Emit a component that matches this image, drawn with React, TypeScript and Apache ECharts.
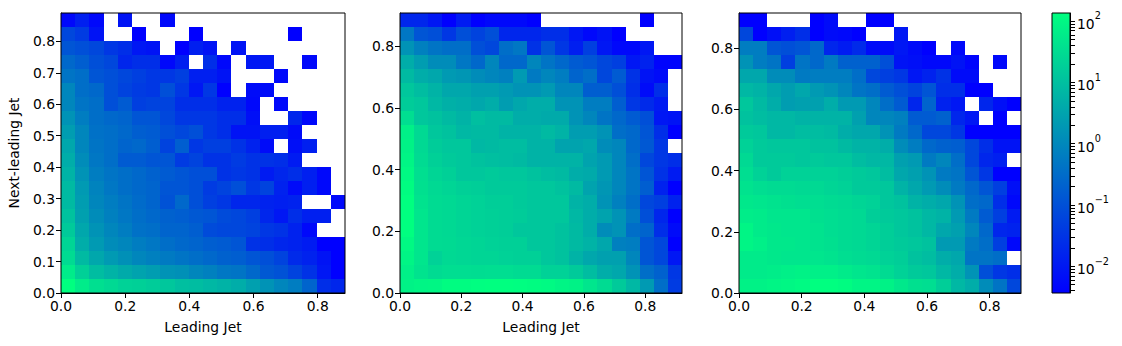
import React, { useEffect, useRef } from "react";
import * as echarts from "echarts";

const n = null;
// Cell levels as percent position along the colour bar, top row first, white cells null
const panelA: (number | null)[][] = [
  [2,8,2,n,5,n,n,2,n,n,n,n,n,n,n,n,n,n,n,n],
  [18,15,5,n,n,0,n,n,n,0,n,n,n,n,n,n,0,n,n,n],
  [22,20,18,14,12,6,5,n,0,8,5,n,5,n,n,n,n,n,n,n],
  [28,25,20,18,10,12,12,2,8,n,12,2,n,6,6,n,n,2,n,n],
  [32,30,22,20,18,16,14,14,16,8,8,5,n,n,n,2,n,n,n,n],
  [38,30,28,20,17,15,14,20,14,6,14,0,n,3,3,n,n,n,n,n],
  [38,32,30,20,24,16,17,17,12,12,12,9,9,2,n,2,n,n,n,n],
  [42,35,30,28,27,22,22,18,14,14,14,12,12,4,n,n,10,2,n,n],
  [45,38,31,30,28,25,24,20,18,20,14,12,5,5,8,8,3,n,n,n],
  [48,38,32,30,27,28,25,17,25,14,16,16,13,9,3,n,4,8,n,n],
  [50,40,33,30,24,24,22,22,15,17,13,13,15,13,13,12,7,n,n,n],
  [52,42,35,32,30,28,26,24,22,20,20,13,14,13,7,10,12,8,2,n],
  [55,44,37,33,30,28,27,22,22,20,15,17,20,14,17,9,3,8,2,n],
  [55,45,38,35,32,29,27,21,28,20,16,14,10,10,9,8,9,n,n,2],
  [58,46,40,36,33,30,28,26,25,23,22,19,18,16,10,6,12,8,8,n],
  [62,48,42,38,35,31,30,27,27,25,19,18,18,17,14,13,9,2,n,n],
  [68,50,44,40,38,35,33,30,28,27,25,24,22,13,12,10,9,7,0,0],
  [72,55,48,44,41,38,36,34,32,30,28,26,25,22,20,17,11,9,5,0],
  [85,65,56,52,49,47,45,42,41,38,36,33,32,28,23,21,17,13,6,0],
  [100,85,75,70,66,65,63,60,57,56,54,52,50,46,42,38,35,27,12,10],
];
const panelB: (number | null)[][] = [
  [10,10,6,0,7,0,2,2,2,0,n,n,n,n,n,n,n,0,n,n],
  [33,22,20,14,20,17,20,10,10,10,12,12,6,2,5,0,n,n,n,n],
  [42,36,32,30,30,20,18,30,33,13,22,14,8,16,6,2,2,6,n,n],
  [50,45,40,40,33,28,38,28,28,38,32,28,24,22,18,16,6,9,1,1],
  [55,50,48,44,43,40,38,36,44,34,38,35,27,30,18,24,13,5,3,n],
  [60,56,52,48,48,46,46,44,42,42,44,38,38,25,25,20,12,3,12,n],
  [63,60,54,51,50,48,50,45,48,50,50,42,42,35,35,25,14,11,7,n],
  [74,60,58,55,52,57,55,55,50,50,49,49,42,38,32,28,24,20,6,5],
  [88,70,60,58,54,55,55,52,52,52,55,52,45,45,42,30,28,22,12,0],
  [90,70,63,60,60,54,55,56,56,52,52,47,47,48,40,38,28,23,14,n],
  [92,72,65,62,60,58,57,56,55,52,52,52,52,47,44,38,30,18,14,12],
  [95,75,68,65,60,60,62,60,60,58,56,55,50,49,44,38,32,22,13,7],
  [98,76,70,68,65,64,62,62,62,60,60,58,55,47,43,38,32,25,9,0],
  [100,78,72,70,68,66,64,64,62,60,60,60,52,50,42,36,30,18,16,9],
  [100,80,72,70,68,66,65,64,63,60,60,60,54,50,47,42,34,20,10,0],
  [100,80,72,70,68,66,65,64,60,60,60,58,55,50,40,42,30,27,12,3],
  [95,80,72,71,69,68,66,65,65,60,60,58,55,52,48,36,35,22,18,0],
  [92,80,66,70,69,68,68,66,65,65,60,58,52,48,46,46,38,22,18,6],
  [88,78,72,74,74,73,74,74,72,72,66,66,62,56,50,48,42,30,26,14],
  [90,92,93,98,98,99,100,100,99,98,96,92,90,80,72,62,54,44,30,15],
];
const panelC: (number | null)[][] = [
  [0,0,n,n,n,0,3,n,n,0,0,n,n,n,n,n,n,n,n,n],
  [18,0,4,8,12,0,3,2,0,n,n,6,n,n,n,n,n,n,n,n],
  [35,35,22,20,22,28,10,7,11,3,3,6,3,0,n,2,n,n,n,n],
  [42,35,32,16,32,28,34,26,26,26,20,5,4,2,2,5,1,n,2,n],
  [48,48,40,40,34,35,35,35,30,18,16,14,6,9,13,3,3,n,n,n],
  [54,52,48,45,48,44,42,38,32,30,24,20,17,22,12,12,0,0,n,n],
  [60,55,50,45,46,46,50,44,44,38,30,24,10,27,9,6,n,10,4,0],
  [58,56,54,54,52,52,52,52,46,38,38,36,24,24,26,10,6,n,0,n],
  [62,60,54,54,56,56,55,50,48,48,42,34,28,18,18,14,0,0,0,0],
  [66,62,60,60,60,58,58,55,52,52,50,40,35,28,26,25,18,12,5,5],
  [70,62,62,62,60,62,60,60,56,54,54,46,44,34,38,30,18,10,8,n],
  [74,66,62,66,66,66,66,64,62,60,56,48,46,42,34,32,22,14,0,0],
  [78,74,72,72,70,70,68,66,62,62,60,52,48,44,40,34,28,22,16,4],
  [82,80,78,76,74,74,72,70,68,66,60,58,52,50,48,42,30,28,12,2],
  [86,84,80,80,80,76,74,72,70,64,62,60,58,54,52,44,34,24,16,7],
  [92,84,82,80,80,78,74,72,70,68,64,60,58,54,48,46,38,28,10,9],
  [92,88,82,82,80,78,76,72,70,68,64,62,60,58,44,44,34,30,16,2],
  [84,84,82,80,80,80,78,74,72,70,66,64,58,56,50,48,32,32,30,n],
  [84,84,86,88,90,88,88,84,80,78,72,66,62,60,54,50,42,20,14,12],
  [90,90,92,94,96,100,100,98,92,92,90,82,76,74,64,54,50,40,32,18],
];
// My eye read mid tones too blue: reading (tens) -> corrected colour-bar percent
const readingCalibration = [0, 15, 31, 43, 55, 68, 78, 85, 90, 95, 100];

const xMaxes = [0.885, 0.92, 0.9];
const yMaxes = [0.89, 0.907, 0.915];
const yTicks = [
  [0, 0.1, 0.2, 0.3, 0.4, 0.5, 0.6, 0.7, 0.8],
  [0, 0.2, 0.4, 0.6, 0.8],
  [0, 0.2, 0.4, 0.6, 0.8],
];
const xTicks = [0, 0.2, 0.4, 0.6, 0.8];
const xNames = ["Leading Jet", "Leading Jet", ""];
const barMajor = [-2, -1, 0, 1, 2];
const barMinor = [
  0.004, 0.005, 0.006, 0.007, 0.008, 0.009,
  0.02, 0.03, 0.04, 0.05, 0.06, 0.07, 0.08, 0.09,
  0.2, 0.3, 0.4, 0.5, 0.6, 0.7, 0.8, 0.9,
  2, 3, 4, 5, 6, 7, 8, 9,
  20, 30, 40, 50, 60, 70, 80, 90,
];
const LOG_MIN = -2.44;
const LOG_MAX = 2.13;
const GRIDS = [
  { left: 61, top: 13, width: 284, height: 280 },
  { left: 400, top: 13, width: 282, height: 280 },
  { left: 739, top: 13, width: 282, height: 280 },
];
const FONT = "DejaVu Sans";
const FS = 13.89;
const BLACK = "#000000";
const SUP: Record<number, string> = { [-2]: "\u22122", [-1]: "\u22121", 0: "0", 1: "1", 2: "2" };

function calibrate(v: number) {
  const i = Math.min(9, Math.floor(v / 10));
  const f = v / 10 - i;
  return readingCalibration[i] + (readingCalibration[i + 1] - readingCalibration[i]) * f;
}

function cellData(rows: (number | null)[][]) {
  const out: number[][] = [];
  rows.forEach((row, r) =>
    row.forEach((v, c) => {
      if (v !== null) out.push([c, 19 - r, calibrate(v)]);
    })
  );
  return out;
}

function buildOption() {
  const panels = [panelA, panelB, panelC];
  const grid: any[] = GRIDS.map((g) => ({
    ...g,
    show: true,
    z: 6,
    backgroundColor: "transparent",
    borderColor: BLACK,
    borderWidth: 1,
  }));
  grid.push({ left: 1052, top: 13, width: 18, height: 280, show: true, z: 6, backgroundColor: "transparent", borderColor: BLACK, borderWidth: 1 });

  const tick = { show: true, length: 5, lineStyle: { color: BLACK, width: 1 } };
  const xAxis: any[] = panels.map((_, i) => ({
    type: "value",
    gridIndex: i,
    min: 0,
    max: xMaxes[i],
    name: xNames[i],
    nameLocation: "middle",
    nameGap: 27,
    nameTextStyle: { fontFamily: FONT, fontSize: FS, color: BLACK },
    splitLine: { show: false },
    axisLine: { show: true, onZero: false, lineStyle: { color: BLACK, width: 1 } },
    axisTick: { ...tick, customValues: xTicks },
    axisLabel: {
      fontFamily: FONT, fontSize: FS, color: BLACK, margin: 6,
      customValues: xTicks,
      formatter: (v: number) => v.toFixed(1),
    },
  }));
  const yAxis: any[] = panels.map((_, i) => ({
    type: "value",
    gridIndex: i,
    min: 0,
    max: yMaxes[i],
    name: i === 0 ? "Next-leading Jet" : "",
    nameLocation: "middle",
    nameGap: 40,
    nameTextStyle: { fontFamily: FONT, fontSize: FS, color: BLACK },
    splitLine: { show: false },
    axisLine: { show: true, onZero: false, lineStyle: { color: BLACK, width: 1 } },
    axisTick: { ...tick, customValues: yTicks[i] },
    axisLabel: {
      fontFamily: FONT, fontSize: FS, color: BLACK, margin: 6,
      customValues: yTicks[i],
      formatter: (v: number) => v.toFixed(1),
    },
  }));
  xAxis.push({ type: "value", gridIndex: 3, min: 0, max: 1, show: false });
  yAxis.push({
    type: "value",
    gridIndex: 3,
    position: "right",
    min: LOG_MIN,
    max: LOG_MAX,
    splitLine: { show: false },
    axisLine: { show: true, onZero: false, lineStyle: { color: BLACK, width: 1 } },
    axisTick: { ...tick, customValues: barMajor },
    axisLabel: {
      fontFamily: FONT, fontSize: FS, color: BLACK, margin: 7,
      customValues: barMajor,
      formatter: (v: number) => `{b|10}{s|${SUP[Math.round(v)]}}`,
      rich: {
        b: { fontFamily: FONT, fontSize: FS, color: BLACK, lineHeight: 20, verticalAlign: "bottom" },
        s: { fontFamily: FONT, fontSize: 9.7, color: BLACK, lineHeight: 20, verticalAlign: "top" },
      },
    },
  });

  const series: any[] = panels.map((rows, i) => ({
    type: "custom",
    coordinateSystem: "cartesian2d",
    xAxisIndex: i,
    yAxisIndex: i,
    clip: true,
    encode: { x: 0, y: 1 },
    data: cellData(rows),
    renderItem: (_p: any, api: any) => {
      const c = api.value(0);
      const r = api.value(1);
      const dx = xMaxes[i] / 20;
      const dy = yMaxes[i] / 20;
      const a = api.coord([c * dx, r * dy]);
      const b = api.coord([(c + 1) * dx, (r + 1) * dy]);
      const x0 = Math.round(a[0]);
      const x1 = Math.round(b[0]);
      const y0 = Math.round(a[1]);
      const y1 = Math.round(b[1]);
      return {
        type: "rect",
        shape: { x: x0, y: y1, width: x1 - x0, height: y0 - y1 },
        style: { fill: api.visual("color") },
      };
    },
  }));
  series.push({
    type: "custom",
    coordinateSystem: "cartesian2d",
    xAxisIndex: 3,
    yAxisIndex: 3,
    clip: false,
    data: [[0, LOG_MIN, LOG_MAX]],
    renderItem: (_p: any, api: any) => {
      const a = api.coord([0, LOG_MAX]);
      const b = api.coord([1, LOG_MIN]);
      const children: any[] = [
        {
          type: "rect",
          shape: { x: a[0], y: a[1], width: b[0] - a[0], height: b[1] - a[1] },
          style: {
            fill: new echarts.graphic.LinearGradient(0, 0, 0, 1, [
              { offset: 0, color: "#00ff80" },
              { offset: 1, color: "#0000ff" },
            ]),
          },
        },
      ];
      barMinor.forEach((v) => {
        const y = Math.round(api.coord([1, Math.log10(v)])[1]) + 0.5;
        children.push({
          type: "line",
          shape: { x1: b[0], y1: y, x2: b[0] + 5, y2: y },
          style: { stroke: BLACK, lineWidth: 1 },
        });
      });
      return { type: "group", children };
    },
  });

  return {
    animation: false,
    backgroundColor: "#ffffff",
    grid,
    xAxis,
    yAxis,
    visualMap: {
      show: false,
      type: "continuous",
      seriesIndex: [0, 1, 2],
      dimension: 2,
      min: 0,
      max: 100,
      inRange: { color: ["#0000ff", "#00ff80"] },
    },
    series,
  };
}

export default function App() {
  const ref = useRef<HTMLDivElement>(null);
  useEffect(() => {
    const chart = echarts.init(ref.current!, undefined, { renderer: "svg" });
    chart.setOption(buildOption() as any);
    return () => chart.dispose();
  }, []);
  return <div ref={ref} style={{ position: "fixed", left: 0, top: 0, width: 1122, height: 346 }} />;
}
